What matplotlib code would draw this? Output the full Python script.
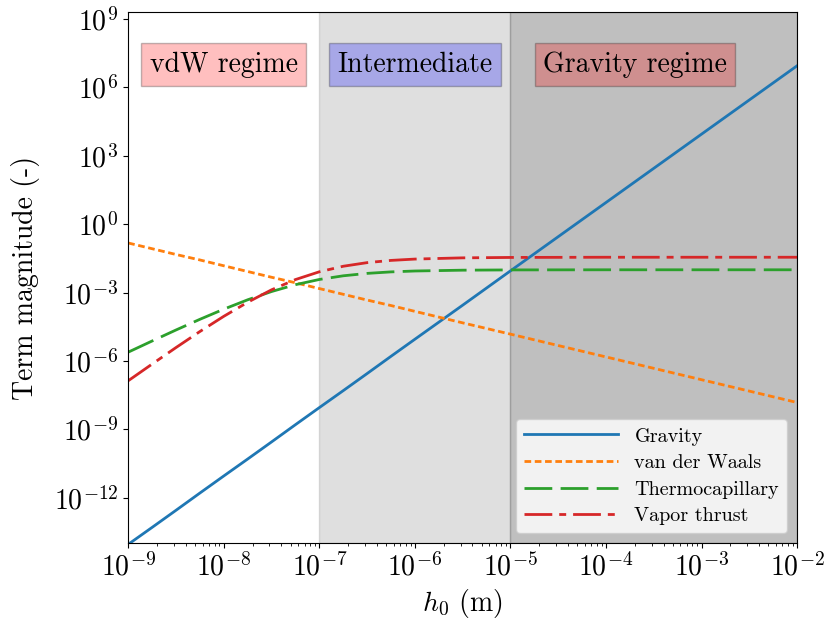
import numpy as np
import matplotlib
matplotlib.use("Agg")
import matplotlib.pyplot as plt

plt.rcParams['font.family'] = 'serif'
plt.rcParams['font.serif'] = ['cmr10']
plt.rcParams['mathtext.fontset'] = 'cm'
plt.rcParams['axes.formatter.use_mathtext'] = True

# film thickness samples (m)
h0 = [1e-9, 1.78e-9, 3.16e-9, 5.62e-9, 1e-8, 1.78e-8, 3.16e-8, 5.62e-8,
      1e-7, 1.78e-7, 3.16e-7, 5.62e-7, 1e-6, 3.16e-6, 1e-5, 1e-4, 1e-3, 1e-2]

# term magnitudes at those thicknesses
gravity = [9e-15, 5.0e-14, 2.8e-13, 1.6e-12, 9e-12, 5.0e-11, 2.8e-10, 1.6e-9,
           9e-9, 5.0e-8, 2.8e-7, 1.6e-6, 9e-6, 2.8e-4, 9e-3, 9.0, 9e3, 9e6]
vdw = [1.5e-1, 8.4e-2, 4.7e-2, 2.7e-2, 1.5e-2, 8.4e-3, 4.7e-3, 2.7e-3,
       1.5e-3, 8.4e-4, 4.7e-4, 2.7e-4, 1.5e-4, 4.7e-5, 1.5e-5, 1.5e-6, 1.5e-7, 1.5e-8]
thermocap = [2.43e-6, 7.52e-6, 2.28e-5, 6.70e-5, 1.87e-4, 4.83e-4, 1.11e-3, 2.22e-3,
             3.76e-3, 5.45e-3, 6.95e-3, 8.09e-3, 8.85e-3, 9.61e-3, 9.87e-3, 1.0e-2, 1.0e-2, 1.0e-2]
vapor = [1.35e-7, 7.31e-7, 3.86e-6, 1.95e-5, 9.08e-5, 3.77e-4, 1.32e-3, 3.72e-3,
         8.17e-3, 1.43e-2, 2.06e-2, 2.58e-2, 2.95e-2, 3.34e-2, 3.48e-2, 3.55e-2, 3.55e-2, 3.55e-2]

# regime limits and labels
regime_edges = [1e-9, 1e-7, 1e-5, 1e-2]
regime_names = ["vdW regime", "Intermediate", "Gravity regime"]
regime_label_x = [1e-8, 1e-6, 2e-4]
regime_colors = ["red", "blue", "red"]

fig = plt.figure(figsize=(8.27, 6.22), dpi=100)
ax = fig.add_axes([0.155, 0.1265, 0.809, 0.8535])

ax.axvspan(regime_edges[1], regime_edges[2], color='gray', alpha=0.25)
ax.axvspan(regime_edges[2], regime_edges[3], color='gray', alpha=0.5)

ax.plot(h0, gravity, color='C0', lw=2, label='Gravity')
ax.plot(h0, vdw, color='C1', lw=2, linestyle=(0, (2.4, 1.3)), label='van der Waals')
ax.plot(h0, thermocap, color='C2', lw=2, linestyle=(0, (10, 3)), label='Thermocapillary')
ax.plot(h0, vapor, color='C3', lw=2, linestyle=(0, (10, 2.5, 2.5, 2.5)), label='Vapor thrust')

ax.set_xscale('log')
ax.set_yscale('log')
ax.set_xlim(1e-9, 1e-2)
ax.set_ylim(1e-14, 10**9.29)
ax.set_yticks([10.0**k for k in range(-12, 10, 3)])
ax.yaxis.set_minor_locator(matplotlib.ticker.NullLocator())

for name, xc, fc in zip(regime_names, regime_label_x, regime_colors):
    ax.text(xc, 1e7, name, ha='center', va='center', fontsize=20,
            bbox=dict(facecolor=fc, alpha=0.25, pad=6))

ax.set_xlabel('$h_0$ (m)', fontsize=20)
ax.set_ylabel('Term magnitude (-)', fontsize=20, labelpad=10)
ax.tick_params(labelsize=20)

ax.legend(loc='lower right', fontsize=14.5, handlelength=4.7, labelspacing=0.42)

fig.savefig('out.png', dpi=100)
